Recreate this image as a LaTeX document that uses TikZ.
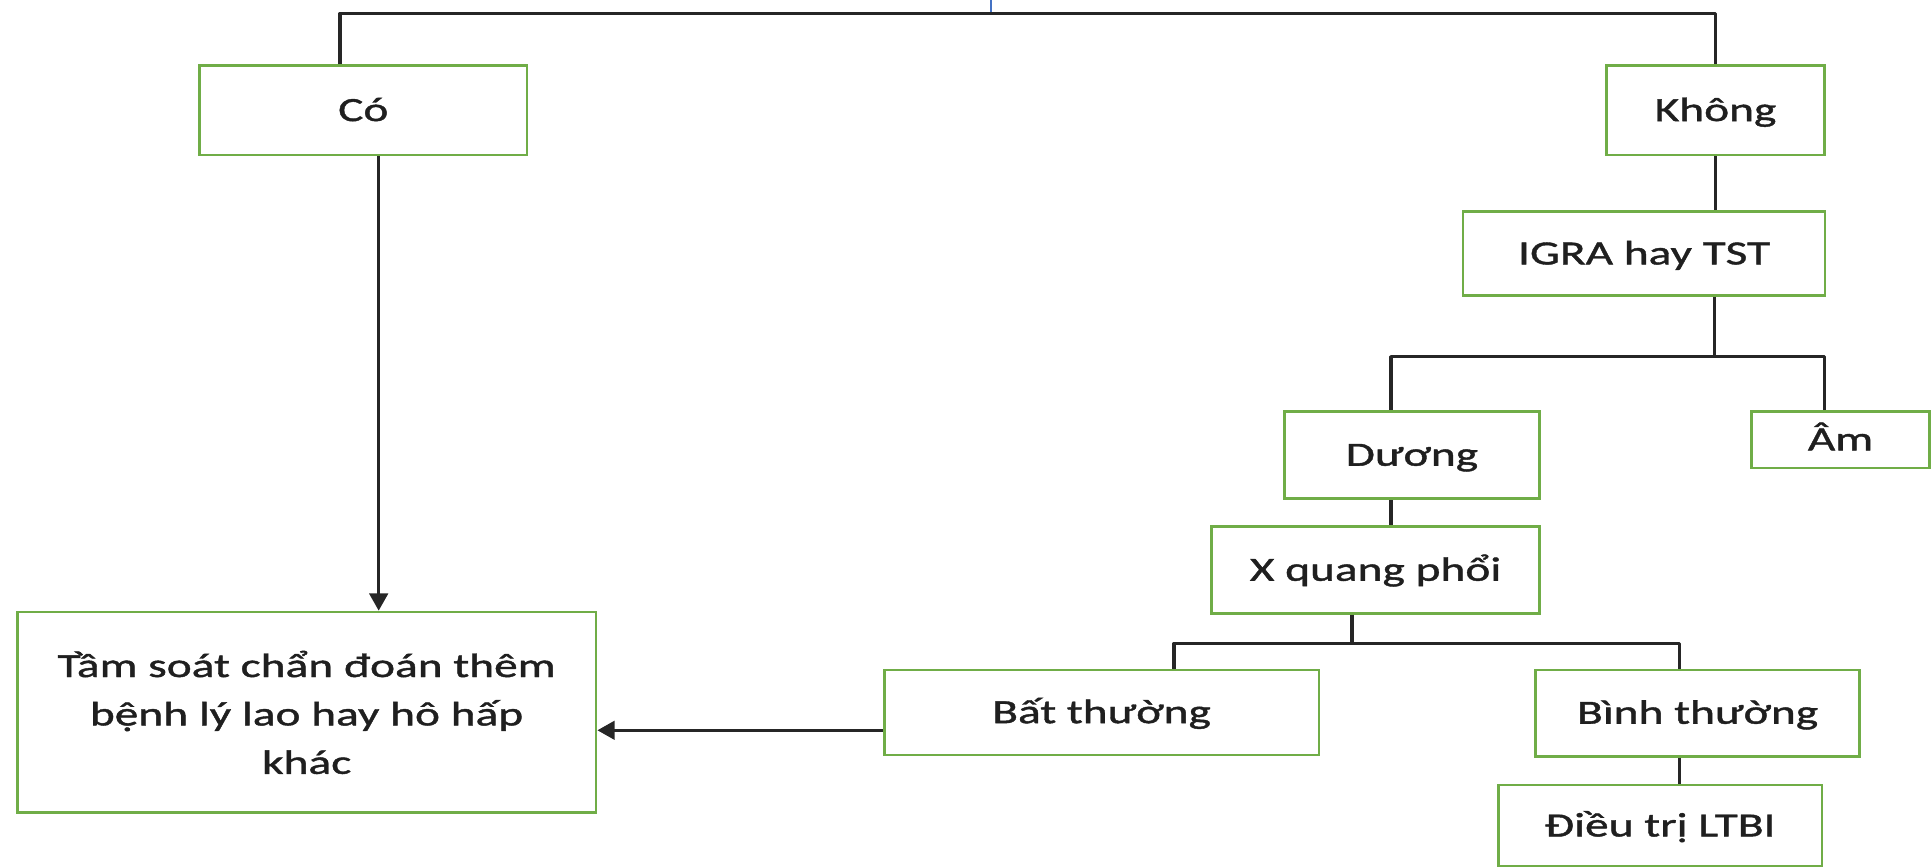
\documentclass[tikz,border=0pt]{standalone}
\usepackage{fontspec}
\setmainfont{Carlito}[FakeStretch=1.4,FakeBold=1.2]
\usetikzlibrary{arrows.meta}
\definecolor{boxgreen}{HTML}{70AD47}
\definecolor{topblue}{HTML}{4472C4}
\begin{document}
\begin{tikzpicture}[x=1pt,y=-1pt,
  box/.style={draw=boxgreen, line width=2.2pt, fill=white, inner sep=0pt, text=black!88,
    font=\fontsize{27.5}{39.3}\selectfont},
  onebox/.style={box, text height=23.4pt, text depth=6pt},
  conn/.style={line width=2.6pt, draw=black!85, line join=round},
  arr/.style={conn, -{Triangle[length=14pt,width=15pt]}}]
\useasboundingbox (0,0) rectangle (1568,704);
% nodes
\node[onebox, minimum width=266pt, minimum height=72.6pt] (co) at (295,89.6) {Có};
\node[onebox, minimum width=177pt, minimum height=72.6pt] (khong) at (1393,89.6) {Không};
\node[onebox, minimum width=294pt, minimum height=68pt] (igra) at (1335,206) {IGRA hay TST};
\node[onebox, minimum width=207pt, minimum height=71pt] (duong) at (1146.5,369.5) {Dương};
\node[onebox, minimum width=145pt, minimum height=46pt] (am) at (1494.5,357) {Âm};
\node[onebox, minimum width=266pt, minimum height=70.3pt] (xq) at (1117,462.9) {X quang phổi};
\node[onebox, minimum width=353pt, minimum height=69pt] (bat) at (894.5,578.5) {Bất thường};
\node[onebox, minimum width=263pt, minimum height=70pt] (binh) at (1378.5,579) {Bình thường};
\node[onebox, minimum width=263pt, minimum height=66pt] (dieu) at (1348,670.5) {Điều trị LTBI};
\node[box, align=center, minimum width=470pt, minimum height=163pt] (tam) at (249,578.5)
  {Tầm soát chẩn đoán thêm\\bệnh lý lao hay hô hấp\\khác};
% top
\coordinate (topstart) at (805,0);
\coordinate (top) at (805,10.8);
\draw[topblue, line width=1.5pt] (topstart) -- (top);
\draw[conn] ([xshift=-19pt]co.north) |- (top) -| (khong.north);
\draw[conn] (khong.south) -- (khong.south |- igra.north);
% IGRA branch
\coordinate (b1) at (1392,289.6);
\draw[conn] (b1 |- igra.south) -- (b1);
\draw[conn] ([xshift=-17pt]duong.north) |- (b1) -| ([xshift=-13pt]am.north);
\draw[conn] ([xshift=-17pt]duong.south) -- ([xshift=-17pt]duong.south |- xq.north);
% XQ branch
\coordinate (b2) at (1097.8,522.4);
\draw[conn] (b2 |- xq.south) -- (b2);
\draw[conn] ([xshift=58.8pt]bat.north) |- (b2) -| ([xshift=-14.8pt]binh.north);
\draw[conn] ([xshift=-14.8pt]binh.south) -- ([xshift=-14.8pt]binh.south |- dieu.north);
% arrows
\draw[arr] ([xshift=12.5pt]co.south) -- ([xshift=12.5pt]co.south |- tam.north);
\draw[arr] ([yshift=-14.5pt]bat.west) -- ([yshift=-14.5pt]bat.west -| tam.east);
\end{tikzpicture}
\end{document}
